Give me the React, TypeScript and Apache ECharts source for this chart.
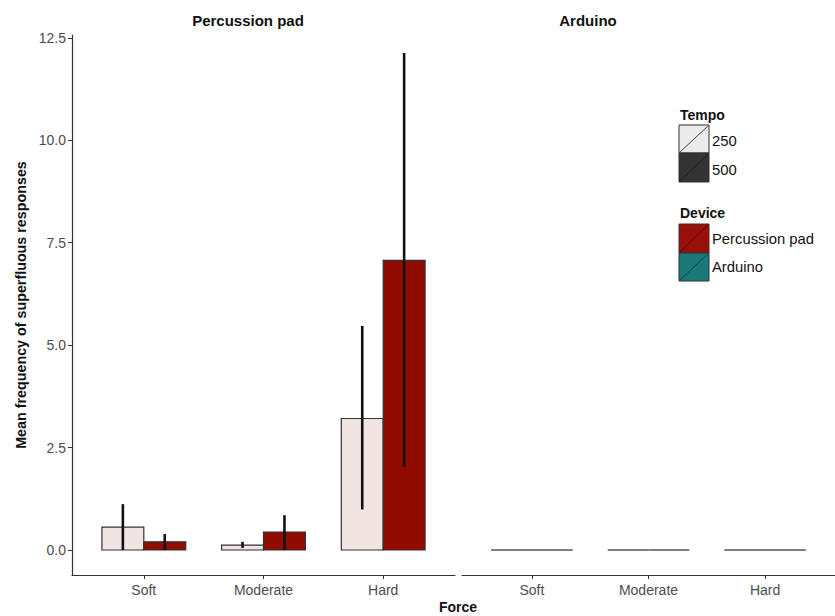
import React, { useEffect, useRef } from "react";
import * as echarts from "echarts";

// ---- data ----
const forces = ["Soft", "Moderate", "Hard"];
const panels = ["Percussion pad", "Arduino"];
const tempos = ["250", "500"];

const padMean250 = [0.56, 0.12, 3.21];
const padMean500 = [0.2, 0.44, 7.07];
const padLow250 = [0, 0.05, 0.99];
const padHigh250 = [1.12, 0.2, 5.47];
const padLow500 = [0, 0, 2.03];
const padHigh500 = [0.39, 0.85, 12.13];

const arduinoMean250 = [0, 0, 0];
const arduinoMean500 = [0, 0, 0];

const yTicks = [0, 2.5, 5, 7.5, 10, 12.5];

// ---- styles ----
const FONT = "'Liberation Sans', Arial, sans-serif";
const barFills = [
  ["#F3E4E4", "#900C00"],
  ["#D9ECEC", "#1B7878"],
];

const BAR_HALF = 0.175;

function barData(m250: number[], m500: number[]) {
  const out: number[][] = [];
  forces.forEach((_, i) => {
    out.push([i + 1, m250[i], 0]);
    out.push([i + 1, m500[i], 1]);
  });
  return out;
}

function errData(l250: number[], h250: number[], l500: number[], h500: number[]) {
  const out: number[][] = [];
  forces.forEach((_, i) => {
    out.push([i + 1, l250[i], h250[i], 0]);
    out.push([i + 1, l500[i], h500[i], 1]);
  });
  return out;
}

function makeBarRender(panel: number) {
  return (params: any, api: any) => {
    const x = api.value(0);
    const v = api.value(1);
    const t = api.value(2);
    const c = x + (t === 0 ? -BAR_HALF : BAR_HALF);
    const p0 = api.coord([c - BAR_HALF, 0]);
    const p1 = api.coord([c + BAR_HALF, v]);
    const h = p0[1] - p1[1];
    if (Math.abs(h) < 0.5) {
      return {
        type: "line",
        shape: { x1: p0[0], y1: p0[1], x2: p1[0], y2: p0[1] },
        style: { stroke: "#555", lineWidth: 1.6 },
      };
    }
    return {
      type: "rect",
      shape: { x: p0[0], y: p1[1], width: p1[0] - p0[0], height: h },
      style: { fill: barFills[panel][t], stroke: "#333", lineWidth: 1.2 },
    };
  };
}

function errRender(params: any, api: any) {
  const x = api.value(0);
  const lo = api.value(1);
  const hi = api.value(2);
  const t = api.value(3);
  const c = x + (t === 0 ? -BAR_HALF : BAR_HALF);
  const a = api.coord([c, lo]);
  const b = api.coord([c, hi]);
  return {
    type: "line",
    shape: { x1: a[0], y1: a[1], x2: b[0], y2: b[1] },
    style: { stroke: "#111", lineWidth: 2.6 },
  };
}

function legendKey(x: number, y: number, w: number, h: number, fill: string, diag: string) {
  return [
    { type: "rect", shape: { x, y, width: w, height: h }, style: { fill, stroke: "#333", lineWidth: 1 } },
    { type: "line", shape: { x1: x + 1, y1: y + h - 1, x2: x + w - 1, y2: y + 1 }, style: { stroke: diag, lineWidth: 0.9 } },
  ];
}

function legendText(x: number, y: number, text: string, bold = false) {
  return {
    type: "text",
    x,
    y,
    style: {
      text,
      fill: "#111",
      font: `${bold ? "bold " : ""}${bold ? 14 : 14.8}px ${FONT}`,
      verticalAlign: "middle",
      align: "left",
    },
  };
}

export default function App() {
  const ref = useRef<HTMLDivElement>(null);
  useEffect(() => {
    if (!ref.current) return;
    const chart = echarts.init(ref.current, undefined, { renderer: "svg" });
    const yMin = -0.61;
    const yMax = 12.57;
    const xAxisCommon = (gi: number) => ({
      type: "value",
      gridIndex: gi,
      min: 0.4,
      max: 3.6,
      axisLine: { show: true, onZero: false, lineStyle: { color: "#333", width: 1.2 } },
      axisTick: { show: true, customValues: [1, 2, 3], length: 4, lineStyle: { color: "#333" } },
      axisLabel: {
        customValues: [1, 2, 3],
        formatter: (v: number) => forces[Math.round(v) - 1],
        color: "#4D4D4D",
        fontSize: 14,
        fontFamily: FONT,
        margin: 8,
      },
      splitLine: { show: false },
    });
    const option: any = {
      animation: false,
      grid: [
        { left: 72, top: 35, width: 383, height: 540 },
        { left: 462, top: 35, width: 385, height: 540 },
      ],
      xAxis: [xAxisCommon(0), xAxisCommon(1)],
      yAxis: [
        {
          type: "value",
          gridIndex: 0,
          min: yMin,
          max: yMax,
          axisLine: { show: true, onZero: false, lineStyle: { color: "#333", width: 1.2 } },
          axisTick: { show: true, customValues: yTicks, length: 4, lineStyle: { color: "#333" } },
          axisLabel: {
            customValues: yTicks,
            formatter: (v: number) => v.toFixed(1),
            color: "#4D4D4D",
            fontSize: 14,
            fontFamily: FONT,
            margin: 6,
          },
          splitLine: { show: false },
        },
        { type: "value", gridIndex: 1, min: yMin, max: yMax, show: false, splitLine: { show: false } },
      ],
      series: [
        {
          type: "custom",
          name: panels[0],
          xAxisIndex: 0,
          yAxisIndex: 0,
          renderItem: makeBarRender(0),
          data: barData(padMean250, padMean500),
          z: 2,
        },
        {
          type: "custom",
          name: panels[0] + " error",
          xAxisIndex: 0,
          yAxisIndex: 0,
          renderItem: errRender,
          data: errData(padLow250, padHigh250, padLow500, padHigh500),
          z: 3,
        },
        {
          type: "custom",
          name: panels[1],
          xAxisIndex: 1,
          yAxisIndex: 1,
          renderItem: makeBarRender(1),
          data: barData(arduinoMean250, arduinoMean500),
          z: 2,
        },
      ],
      graphic: [
        {
          type: "text",
          x: 248,
          y: 20,
          style: { text: panels[0], font: `bold 15px ${FONT}`, fill: "#111", align: "center", verticalAlign: "middle" },
        },
        {
          type: "text",
          x: 588,
          y: 20,
          style: { text: panels[1], font: `bold 15px ${FONT}`, fill: "#111", align: "center", verticalAlign: "middle" },
        },
        {
          type: "text",
          x: 21,
          y: 305,
          rotation: Math.PI / 2,
          style: {
            text: "Mean frequency of superfluous responses",
            font: `bold 14.3px ${FONT}`,
            fill: "#111",
            align: "center",
            verticalAlign: "middle",
          },
        },
        {
          type: "text",
          x: 458,
          y: 607,
          style: { text: "Force", font: `bold 14px ${FONT}`, fill: "#111", align: "center", verticalAlign: "middle" },
        },
        legendText(680, 115, "Tempo", true),
        ...legendKey(679, 125, 30, 28, "#EBEBEB", "#333"),
        legendText(712, 141, tempos[0]),
        ...legendKey(679, 153, 30, 29, "#333333", "#1a1a1a"),
        legendText(712, 170, tempos[1]),
        legendText(680, 213, "Device", true),
        ...legendKey(679, 224, 30, 29, "#990F0A", "#5a0805"),
        legendText(712, 239, panels[0]),
        ...legendKey(679, 253, 30, 28, "#1B7878", "#0e4444"),
        legendText(712, 267, panels[1]),
      ],
    };
    chart.setOption(option);
    return () => chart.dispose();
  }, []);
  return <div ref={ref} style={{ width: 835, height: 616, position: "absolute", left: 0, top: 0 }} />;
}
